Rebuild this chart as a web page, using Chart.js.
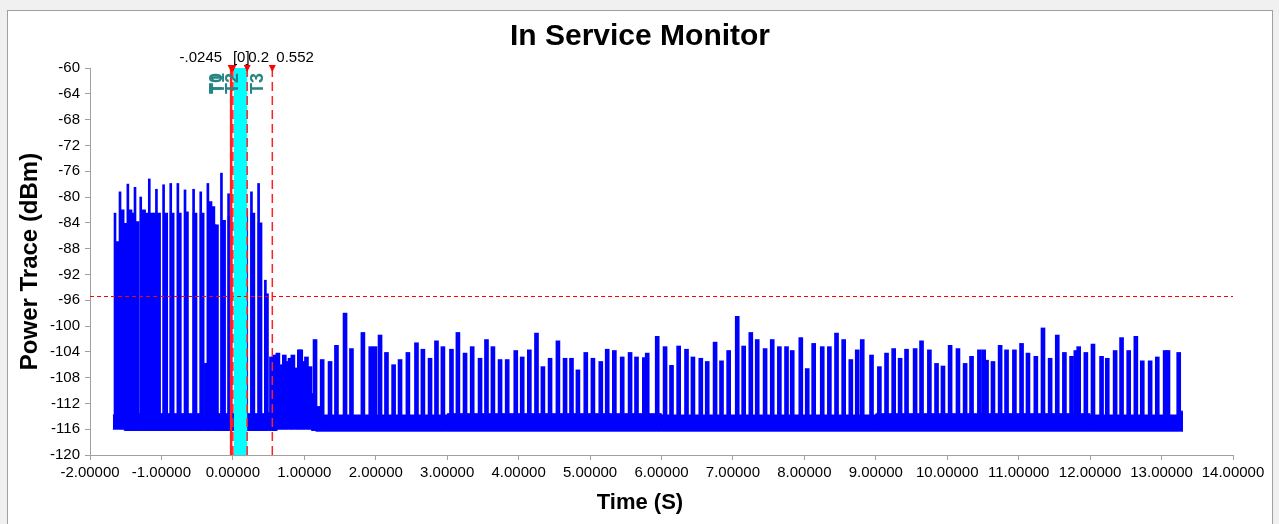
<!DOCTYPE html>
<html>
<head>
<meta charset="utf-8">
<title>In Service Monitor</title>
<script src="https://cdn.jsdelivr.net/npm/chart.js@4.4.1/dist/chart.umd.min.js"></script>
<style>
  body { margin: 0; background: #f0f0f0; }
  #panel { position: absolute; left: 7px; top: 10px; width: 1264px; height: 514px; background: #fff; border: 1px solid #a0a0a0; }
  canvas { display: block; }
</style>
</head>
<body>
<div id="panel"><canvas id="ismChart" width="1264" height="513"></canvas></div>
<script>
// Шрифт
const FONT = "'Liberation Sans', Arial, sans-serif";

// Нижний "шумовой" уровень трассы (ступеньками)
const floorTimes = [-1.68, -1.655, -1.625, -1.600, -1.52, -1.33, -0.40, -0.30, 0.50, 0.54, 0.62, 0.70, 0.78, 0.86, 0.94, 1.02, 1.10, 1.16, 1.22, 3.0, 6.0, 9.0, 12.0, 13.25, 13.30];
const floorHi = [-113.8, -101.0, -97.0, -113.6, -104.2, -113.6, -105.8, -113.6, -113.4, -107.5, -110.5, -108.5, -110.0, -109.0, -111.0, -108.0, -110.5, -112.5, -113.8, -113.6, -113.8, -113.6, -113.8, -113.2, -113.2];
const floorLo = [-116.0, -116.0, -116.0, -116.0, -116.2, -116.2, -116.2, -116.2, -116.2, -116.2, -116.0, -116.0, -116.0, -116.0, -116.0, -116.0, -116.2, -116.3, -116.3, -116.3, -116.3, -116.3, -116.3, -116.3, -116.3];

// Пачки в начале записи: узкие пики и широкие блоки
const burstTimes = [-1.65, -1.58, -1.47, -1.37, -1.29, -1.17, -1.07, -0.97, -0.87, -0.77, -0.67, -0.55, -0.45, -0.35, -0.25, -0.16, -0.06, 0.06, 0.16, 0.26, 0.36, 0.455];
const burstPeaks = [-82.5, -79.2, -78.0, -78.5, -80.0, -77.2, -78.8, -78.1, -77.9, -77.9, -78.9, -78.8, -79.2, -77.9, -84.3, -76.3, -79.5, -78.1, -81.5, -79.2, -77.9, -92.9];
const blockTimes = [-1.62, -1.55, -1.51, -1.44, -1.41, -1.34, -1.25, -1.22, -1.14, -1.09, -1.04, -0.94, -0.85, -0.75, -0.65, -0.53, -0.43, -0.32, -0.28, -0.23, -0.13, -0.04, 0.08, 0.12, 0.18, 0.28, 0.38, 0.47];
const blockTops = [-86.9, -82.0, -84.1, -82.0, -82.5, -83.8, -82.0, -82.5, -82.5, -82.5, -82.5, -82.5, -82.5, -82.5, -82.3, -82.5, -82.5, -80.7, -81.5, -84.3, -83.6, -83.0, -82.5, -82.5, -82.0, -82.5, -84.0, -95.0];

// Остальные пики трассы
const spikeTimes = [0.54, 0.58, 0.63, 0.67, 0.72, 0.76, 0.80, 0.84, 0.88, 0.93, 0.95, 1.00, 1.03, 1.08, 1.15,
  1.25, 1.36, 1.45, 1.57, 1.66, 1.82, 1.93, 1.99, 2.06, 2.15, 2.25, 2.34, 2.45, 2.57, 2.66, 2.76, 2.85, 2.94,
  3.06, 3.15, 3.25, 3.35, 3.46, 3.55, 3.64, 3.74, 3.84, 3.96, 4.05, 4.15,
  4.25, 4.34, 4.44, 4.55, 4.65, 4.74, 4.83, 4.94, 5.04, 5.15, 5.24, 5.34, 5.45, 5.56, 5.65, 5.76, 5.80, 5.94,
  6.05, 6.14, 6.24, 6.35, 6.44, 6.55, 6.64, 6.75, 6.84, 6.94, 7.06, 7.15,
  7.25, 7.34, 7.45, 7.55, 7.65, 7.75, 7.83, 7.95, 8.04, 8.13, 8.25, 8.35, 8.45, 8.55, 8.65, 8.74, 8.81, 8.94,
  9.05, 9.15, 9.25, 9.34, 9.43, 9.55, 9.64, 9.75, 9.85, 9.94, 10.04, 10.15, 10.25, 10.34, 10.45,
  10.51, 10.55, 10.64, 10.74, 10.83, 10.94, 11.04, 11.13, 11.24, 11.34, 11.44, 11.54, 11.64, 11.74, 11.80, 11.84,
  11.94, 12.04, 12.16, 12.24, 12.35, 12.44, 12.54, 12.64, 12.73, 12.84, 12.94, 13.05, 13.09, 13.24];
const spikePeaks = [-104.8, -104.5, -104.2, -106.0, -104.5, -105.5, -105.0, -104.5, -106.5, -103.7, -103.7, -105.5, -104.8, -106.3, -102.1,
  -105.2, -105.5, -103.0, -98.0, -103.5, -101.0, -103.2, -103.2, -101.4, -104.1, -106.0, -105.2, -104.1, -102.6, -103.6, -105.0, -102.3, -103.2,
  -103.6, -101.0, -104.2, -103.2, -105.0, -102.1, -103.2, -105.2, -105.2, -103.8, -104.8, -103.7,
  -101.1, -106.3, -105.0, -102.3, -105.0, -105.0, -106.8, -104.1, -105.0, -105.5, -103.6, -103.8, -104.8, -104.1, -104.8, -104.9, -104.2, -101.6,
  -103.2, -106.1, -103.1, -103.6, -104.8, -105.0, -105.5, -102.5, -105.4, -103.8, -98.5, -103.1,
  -101.0, -102.1, -103.5, -102.1, -103.2, -103.2, -103.8, -101.8, -106.6, -102.7, -103.2, -103.2, -101.1, -102.1, -105.2, -103.7, -102.1, -104.5,
  -106.3, -104.2, -103.5, -105.0, -103.6, -103.5, -102.3, -103.7, -105.8, -106.2, -103.0, -103.5, -105.8, -104.7, -103.7,
  -103.7, -105.3, -105.5, -103.0, -103.7, -103.7, -102.7, -104.2, -104.7, -100.3, -105.0, -101.4, -104.1, -104.7, -103.8, -103.2,
  -104.1, -102.8, -104.7, -105.0, -103.8, -101.8, -103.8, -101.6, -105.4, -105.4, -104.8, -103.8, -103.8, -104.1];
const spikeBase = -114.5;

// Маркеры времени и порог
const markerNames = ['T0', 'T1', 'T2', 'T3'];
const markerTimes = [-0.0245, 0, 0.2, 0.552];
const markerLabels = ['-.0245', '[0]', '0.2', '0.552'];
const thresholdDbm = -95.3;

// Подписи осей
const xTicks = [-2, -1, 0, 1, 2, 3, 4, 5, 6, 7, 8, 9, 10, 11, 12, 13, 14];
const yTicks = [-120, -116, -112, -108, -104, -100, -96, -92, -88, -84, -80, -76, -72, -68, -64, -60];

const BLUE = '#0000ff';

const toBars = (times, tops) => times.map((t, i) => ({x: t, y: [spikeBase, tops[i]]}));

// Плагин: порог, полоса T1-T2, линии маркеров и их подписи
const markerPlugin = {
    id: 'markers',
    afterDatasetsDraw(chart) {
        const {ctx, chartArea: a, scales: {x, y}} = chart;
        const px = markerTimes.map(t => x.getPixelForValue(t));
        ctx.save();

        // полоса между T1 и T2
        ctx.fillStyle = '#00ffff';
        ctx.fillRect(px[1] + 1, a.top, px[2] - px[1] - 1, a.bottom - a.top);

        // пороговая линия
        const ty = Math.round(y.getPixelForValue(thresholdDbm)) + 0.5;
        ctx.strokeStyle = '#ff0000';
        ctx.lineWidth = 1;
        ctx.setLineDash([4, 3]);
        ctx.beginPath();
        ctx.moveTo(a.left, ty);
        ctx.lineTo(a.right, ty);
        ctx.stroke();

        // вертикальные линии
        ctx.strokeStyle = '#ff2020';
        px.forEach((p, i) => {
            ctx.setLineDash(i === 0 ? [] : [9, 5]);
            ctx.lineWidth = i === 0 ? 2.5 : 1.5;
            ctx.beginPath();
            ctx.moveTo(p, a.top);
            ctx.lineTo(p, a.bottom);
            ctx.stroke();
        });
        ctx.setLineDash([]);

        // треугольники
        ctx.fillStyle = '#ff0000';
        px.forEach(p => {
            ctx.beginPath();
            ctx.moveTo(p - 3.5, a.top - 3);
            ctx.lineTo(p + 3.5, a.top - 3);
            ctx.lineTo(p, a.top + 4);
            ctx.closePath();
            ctx.fill();
        });

        // значения над маркерами
        const offs = [-9, 0, 1, 4];
        ctx.fillStyle = '#000';
        ctx.font = '15px ' + FONT;
        ctx.textBaseline = 'middle';
        px.forEach((p, i) => {
            ctx.textAlign = i === 0 ? 'right' : 'left';
            ctx.fillText(markerLabels[i], p + offs[i], a.top - 10);
        });

        // имена маркеров (вертикально)
        ctx.fillStyle = '#268484';
        ctx.font = 'bold 18px ' + FONT;
        ctx.textAlign = 'left';
        px.forEach((p, i) => {
            ctx.save();
            ctx.translate(p - 14, a.top + 26);
            ctx.rotate(-Math.PI / 2);
            ctx.fillText(markerNames[i], 0, 0);
            ctx.restore();
        });
        ctx.restore();
    }
};

const ctx = document.getElementById('ismChart').getContext('2d');

const chart = new Chart(ctx, {
    type: 'bar',
    data: {
        datasets: [
            {
                type: 'line', label: 'floor top',
                data: floorTimes.map((t, i) => ({x: t, y: floorHi[i]})),
                borderColor: BLUE, backgroundColor: BLUE, borderWidth: 1,
                pointRadius: 0, stepped: true, fill: '+1'
            },
            {
                type: 'line', label: 'floor bottom',
                data: floorTimes.map((t, i) => ({x: t, y: floorLo[i]})),
                borderColor: BLUE, borderWidth: 1, pointRadius: 0, stepped: true, fill: false
            },
            {
                label: 'blocks', data: toBars(blockTimes, blockTops), stack: 'trace',
                backgroundColor: BLUE, borderWidth: 0, barThickness: 4
            },
            {
                label: 'bursts', data: toBars(burstTimes, burstPeaks), stack: 'trace',
                backgroundColor: BLUE, borderWidth: 0, barThickness: 2
            },
            {
                label: 'spikes', data: toBars(spikeTimes, spikePeaks), stack: 'trace',
                backgroundColor: BLUE, borderWidth: 0, barThickness: 4
            }
        ]
    },
    options: {
        responsive: false,
        animation: false,
        layout: { padding: 0 },
        plugins: {
            legend: { display: false },
            tooltip: { enabled: false },
            title: {
                display: true, text: 'In Service Monitor', color: '#000',
                font: { family: FONT, size: 30, weight: 'bold' },
                padding: { top: 8, bottom: 13 }
            },
            // подпись оси X — по центру всей панели, как в оригинале
            subtitle: {
                display: true, position: 'bottom', text: 'Time (S)', color: '#000',
                font: { family: FONT, size: 22, weight: 'bold' },
                padding: { top: 0, bottom: 8 }
            }
        },
        scales: {
            x: {
                type: 'linear', min: -2, max: 14, offset: false,
                afterBuildTicks: s => { s.ticks = xTicks.map(v => ({value: v})); },
                afterFit: s => { s.height = 34.6; },
                grid: { drawOnChartArea: false, offset: false, tickLength: 5, color: '#a0a0a0' },
                border: { color: '#a0a0a0' },
                ticks: {
                    color: '#000', padding: 4, maxRotation: 0, autoSkip: false,
                    font: { family: FONT, size: 15 },
                    callback: v => v.toFixed(5)
                }
            },
            y: {
                min: -120, max: -60, stacked: false,
                afterBuildTicks: s => { s.ticks = yTicks.map(v => ({value: v})); },
                afterFit: s => { s.width = 82; },
                grid: { drawOnChartArea: false, tickLength: 5, color: '#a0a0a0' },
                border: { color: '#a0a0a0' },
                ticks: {
                    color: '#000', padding: 5, autoSkip: false,
                    font: { family: FONT, size: 15 }
                },
                title: {
                    display: true, text: 'Power Trace (dBm)', color: '#000',
                    font: { family: FONT, size: 24, weight: 'bold' },
                    padding: { top: 8, bottom: 0 }
                }
            },
            // пустая правая ось — только отступ справа
            y2: {
                position: 'right', min: -120, max: -60,
                afterFit: s => { s.width = 39; },
                grid: { display: false }, border: { display: false },
                ticks: { display: false }
            }
        }
    },
    plugins: [markerPlugin]
});
</script>
</body>
</html>
